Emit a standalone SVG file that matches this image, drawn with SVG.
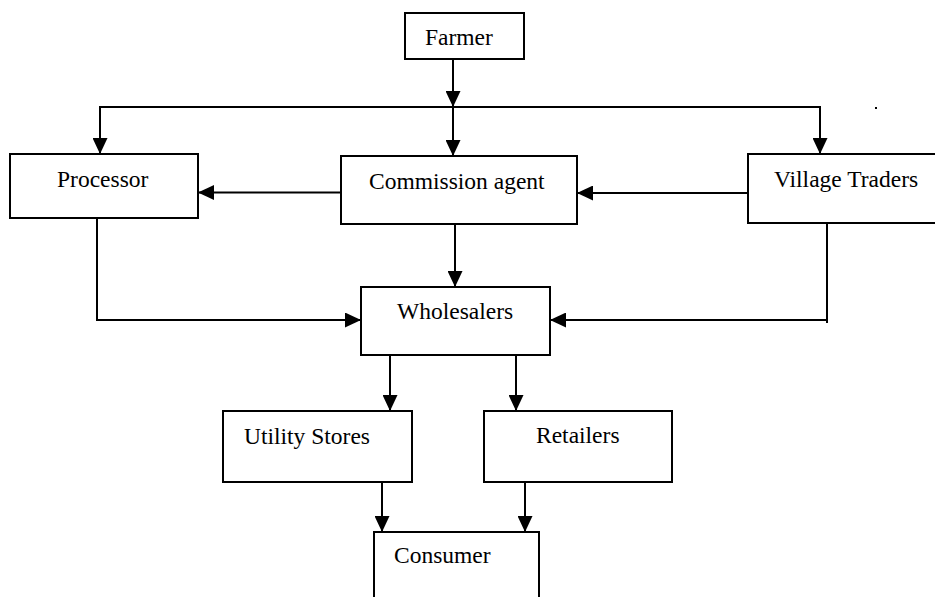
<svg xmlns="http://www.w3.org/2000/svg" width="935" height="597" viewBox="0 0 935 597">
  <style>
    .box { fill: #ffffff; stroke: #000000; stroke-width: 2; }
    .lbl { font-family: "Liberation Serif", "Times New Roman", serif; font-size: 23.5px; fill: #000000; }
    .link { fill: none; stroke: #000000; stroke-width: 2; }
    .arr { marker-end: url(#head); }
  </style>
  <defs>
    <marker id="head" markerUnits="userSpaceOnUse" markerWidth="16" markerHeight="15" refX="16" refY="7.5" orient="auto">
      <path d="M0,0 L16,7.5 L0,15 z" fill="#000000"/>
    </marker>
  </defs>
  <rect width="935" height="597" fill="#ffffff"/>

  <!-- connectors -->
  <g id="connectors">
    <path class="link arr" d="M453,59 V107"/>
    <path class="link" d="M99,107 H821"/>
    <path class="link arr" d="M100,107 V154"/>
    <path class="link arr" d="M453,107 V156"/>
    <path class="link arr" d="M820,107 V154"/>
    <path class="link arr" d="M341,192.5 H198"/>
    <path class="link arr" d="M748,193 H577"/>
    <path class="link arr" d="M455,224 V287"/>
    <path class="link arr" d="M97,218 V320 H361"/>
    <path class="link" d="M827,223 V323"/>
    <path class="link arr" d="M827,320 H550"/>
    <path class="link arr" d="M390,355 V411"/>
    <path class="link arr" d="M516,355 V411"/>
    <path class="link arr" d="M382,482 V532"/>
    <path class="link arr" d="M525,482 V532"/>
  </g>

  <!-- nodes -->
  <g id="farmer">
    <rect class="box" x="405" y="13" width="119" height="46"/>
    <text class="lbl" x="425" y="45">Farmer</text>
  </g>
  <g id="processor">
    <rect class="box" x="10" y="154" width="188" height="64"/>
    <text class="lbl" x="57" y="187">Processor</text>
  </g>
  <g id="commission-agent">
    <rect class="box" x="341" y="156" width="236" height="68"/>
    <text class="lbl" x="369" y="189">Commission agent</text>
  </g>
  <g id="village-traders">
    <rect class="box" x="748" y="154" width="190" height="69"/>
    <text class="lbl" x="774" y="187">Village Traders</text>
  </g>
  <g id="wholesalers">
    <rect class="box" x="361" y="287" width="189" height="68"/>
    <text class="lbl" x="397" y="319">Wholesalers</text>
  </g>
  <g id="utility-stores">
    <rect class="box" x="223" y="411" width="189" height="71"/>
    <text class="lbl" x="244" y="444">Utility Stores</text>
  </g>
  <g id="retailers">
    <rect class="box" x="484" y="411" width="188" height="71"/>
    <text class="lbl" x="536" y="443">Retailers</text>
  </g>
  <g id="consumer">
    <rect class="box" x="374" y="532" width="165" height="80"/>
    <text class="lbl" x="394" y="563">Consumer</text>
  </g>

  <!-- stray mark -->
  <rect x="875" y="107" width="2" height="2" fill="#000000"/>
</svg>
